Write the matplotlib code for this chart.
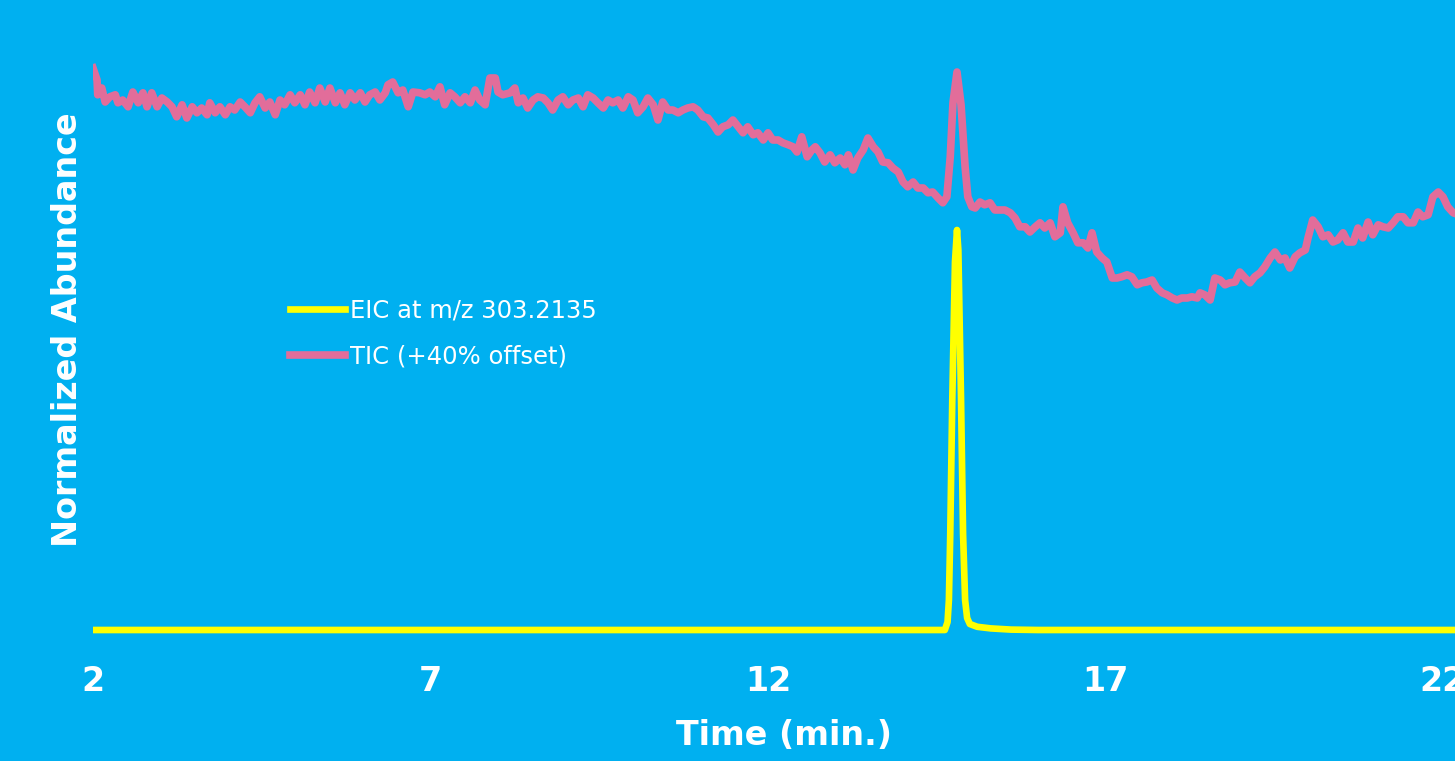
import matplotlib
matplotlib.use("Agg")
import matplotlib.pyplot as plt

# ---------------- data ----------------
x_ticks = [2, 7, 12, 17, 22]
x_tick_labels = ["2", "7", "12", "17", "22"]

eic_label = "EIC at m/z 303.2135"
tic_label = "TIC (+40% offset)"

eic_time = [2.00, 14.62, 14.66, 14.68, 14.70, 14.73, 14.77, 14.80, 14.82, 14.86,
            14.89, 14.92, 14.95, 14.99, 15.10, 15.30, 15.60, 16.00, 22.20]
eic_value = [0.0, 0.0, 0.02, 0.075, 0.24, 0.575, 0.92, 1.0, 0.95, 0.575,
             0.24, 0.075, 0.03, 0.015, 0.008, 0.004, 0.001, 0.0, 0.0]

tic_time = [
    2.00, 2.06, 2.07, 2.13, 2.18, 2.25, 2.33, 2.37, 2.44, 2.52, 2.59, 2.67, 2.74, 2.80,
    2.87, 2.95, 3.02, 3.10, 3.17, 3.24, 3.32, 3.39, 3.47, 3.54, 3.61, 3.69, 3.73, 3.81,
    3.88, 3.96, 4.03, 4.10, 4.18, 4.25, 4.33, 4.40, 4.47, 4.55, 4.62, 4.70, 4.77, 4.84,
    4.92, 4.99, 5.07, 5.14, 5.21, 5.29, 5.36, 5.44, 5.51, 5.59, 5.66, 5.73, 5.81, 5.88,
    5.96, 6.03, 6.10, 6.18, 6.25, 6.33, 6.37, 6.44, 6.52, 6.59, 6.67, 6.74,
    6.84, 6.92, 6.99, 7.07, 7.14, 7.21, 7.29, 7.36, 7.44, 7.51, 7.59, 7.66, 7.73, 7.81,
    7.88, 7.96, 8.00, 8.07, 8.18, 8.25, 8.30, 8.37, 8.44, 8.52, 8.59, 8.67, 8.74, 8.81,
    8.89, 8.96, 9.04, 9.11, 9.19, 9.26, 9.33, 9.41, 9.48, 9.56, 9.63, 9.70, 9.78, 9.85,
    9.93, 10.00, 10.07, 10.15, 10.22, 10.30, 10.37, 10.44, 10.52, 10.59, 10.67, 10.74,
    10.81, 10.89, 10.96, 11.04, 11.11, 11.19, 11.26, 11.33, 11.41, 11.48, 11.56,
    11.63, 11.70, 11.78, 11.85, 11.93, 12.00, 12.07, 12.15, 12.22, 12.30, 12.37, 12.43,
    12.50, 12.58, 12.65, 12.70, 12.77, 12.84, 12.92, 12.99, 13.07, 13.14, 13.19, 13.26,
    13.33, 13.41, 13.48, 13.56, 13.63, 13.70, 13.78, 13.85, 13.93, 14.00, 14.07, 14.15,
    14.22, 14.30, 14.37, 14.44, 14.52, 14.59, 14.65, 14.70, 14.74, 14.80, 14.86, 14.92,
    14.96, 15.02, 15.07, 15.14, 15.21, 15.29, 15.36, 15.44, 15.51, 15.59, 15.66, 15.73,
    15.81, 15.88, 15.96, 16.03, 16.10, 16.18, 16.25, 16.33, 16.37, 16.44, 16.52, 16.59,
    16.67, 16.74, 16.80, 16.87, 16.95, 17.02, 17.10, 17.17, 17.24, 17.32, 17.39, 17.47,
    17.54, 17.61, 17.69, 17.76, 17.84, 17.91, 17.99, 18.06, 18.13, 18.21, 18.28, 18.36,
    18.40, 18.47, 18.55, 18.62, 18.70, 18.77, 18.84, 18.92, 18.99, 19.07, 19.14, 19.21,
    19.29, 19.36, 19.44, 19.51, 19.59, 19.66, 19.73, 19.81, 19.88, 19.96, 20.00, 20.07,
    20.15, 20.22, 20.30, 20.37, 20.44, 20.52, 20.59, 20.67, 20.74, 20.81, 20.89, 20.96,
    21.04, 21.11, 21.19, 21.26, 21.33, 21.41, 21.48, 21.56, 21.63, 21.70, 21.78, 21.85,
    21.93, 22.00, 22.07, 22.15, 22.20,
]
tic_value = [
    1.405, 1.375, 1.338, 1.355, 1.320, 1.333, 1.338, 1.318, 1.325, 1.308, 1.345, 1.318, 1.343, 1.308,
    1.343, 1.308, 1.330, 1.320, 1.308, 1.283, 1.313, 1.280, 1.308, 1.293, 1.305, 1.288, 1.318, 1.293,
    1.308, 1.288, 1.308, 1.300, 1.320, 1.308, 1.293, 1.318, 1.333, 1.305, 1.320, 1.288, 1.325, 1.313,
    1.338, 1.318, 1.338, 1.313, 1.345, 1.318, 1.355, 1.320, 1.355, 1.318, 1.343, 1.313, 1.343, 1.325,
    1.343, 1.320, 1.338, 1.345, 1.325, 1.343, 1.363, 1.370, 1.343, 1.350, 1.308, 1.345,
    1.343, 1.338, 1.345, 1.333, 1.358, 1.313, 1.343, 1.333, 1.318, 1.333, 1.318, 1.350, 1.325, 1.313,
    1.380, 1.380, 1.345, 1.338, 1.343, 1.355, 1.318, 1.330, 1.305, 1.325, 1.333, 1.330, 1.318, 1.300,
    1.325, 1.333, 1.313, 1.325, 1.330, 1.308, 1.338, 1.330, 1.318, 1.305, 1.325, 1.318, 1.325, 1.305,
    1.333, 1.325, 1.293, 1.308, 1.330, 1.313, 1.275, 1.320, 1.300, 1.300, 1.293, 1.300,
    1.305, 1.308, 1.300, 1.283, 1.280, 1.263, 1.245, 1.258, 1.263, 1.275, 1.258,
    1.243, 1.258, 1.238, 1.243, 1.225, 1.243, 1.225, 1.225, 1.218, 1.213, 1.208, 1.195,
    1.233, 1.183, 1.200, 1.208, 1.193, 1.170, 1.188, 1.168, 1.180, 1.163, 1.188, 1.150,
    1.180, 1.200, 1.230, 1.208, 1.195, 1.170, 1.168, 1.155, 1.145, 1.120, 1.108, 1.120,
    1.105, 1.105, 1.093, 1.095, 1.080, 1.068, 1.083, 1.183, 1.318, 1.395, 1.313, 1.158,
    1.083, 1.058, 1.055, 1.070, 1.063, 1.068, 1.050, 1.050, 1.050, 1.043, 1.030, 1.008,
    1.008, 0.995, 1.008, 1.018, 1.005, 1.018, 0.983, 0.993, 1.058, 1.018, 0.993, 0.968,
    0.968, 0.955, 0.993, 0.945, 0.930, 0.920, 0.880, 0.880, 0.883, 0.888, 0.883, 0.863,
    0.868, 0.870, 0.875, 0.855, 0.843, 0.838, 0.830, 0.825, 0.830, 0.830, 0.833, 0.830,
    0.843, 0.838, 0.825, 0.880, 0.875, 0.863, 0.868, 0.870, 0.895, 0.880, 0.868, 0.883,
    0.893, 0.908, 0.930, 0.945, 0.925, 0.930, 0.905, 0.933, 0.943, 0.950, 0.980, 1.025,
    1.008, 0.983, 0.988, 0.970, 0.975, 0.993, 0.970, 0.970, 1.005, 0.980, 1.020, 0.988,
    1.013, 1.008, 1.005, 1.018, 1.033, 1.033, 1.018, 1.018, 1.045, 1.033, 1.038, 1.083,
    1.095, 1.083, 1.058, 1.043, 1.040,
]

# ---------------- style ----------------
BG = "#00B0F0"
EIC_COLOR = "#FFFF00"
TIC_COLOR = "#E26D9A"
W, H = 1455, 761

fig = plt.figure(figsize=(W / 100, H / 100), dpi=100, facecolor=BG)
ax = fig.add_axes([93 / W, (H - 640) / H, (W - 93) / W, 590 / H])
ax.set_facecolor(BG)

ax.plot(eic_time, eic_value, color=EIC_COLOR, lw=4.8, label=eic_label,
        solid_joinstyle="round")
ax.plot(tic_time, tic_value, color=TIC_COLOR, lw=5.5, label=tic_label,
        solid_joinstyle="round")

ax.set_xlim(2, 2 + (W - 93) / 67.5)
ax.set_ylim(-0.025, 1.45)

for s in ax.spines.values():
    s.set_visible(False)
ax.set_yticks([])
ax.set_xticks(x_ticks)
ax.set_xticklabels(x_tick_labels)
ax.tick_params(axis="x", length=0, pad=18, labelsize=24, labelcolor="white")
for lab in ax.get_xticklabels():
    lab.set_fontweight("bold")

ax.set_xlabel("Time (min.)", fontsize=24, fontweight="bold", color="white")
ax.xaxis.set_label_coords((783.5 - 93) / (W - 93), -0.134)

fig.text(68 / W, (H - 330) / H, "Normalized Abundance", rotation=90,
         ha="center", va="center", fontsize=24, fontweight="bold", color="white")

leg = ax.legend(loc="upper left", bbox_to_anchor=(290 / W, (H - 299) / H),
                bbox_transform=fig.transFigure, frameon=False, fontsize=17.5,
                handlelength=2.26, handletextpad=0.2, labelspacing=0.87,
                borderaxespad=0, borderpad=0)
for t in leg.get_texts():
    t.set_color("white")

fig.savefig("out.png", dpi=100, facecolor=BG)
